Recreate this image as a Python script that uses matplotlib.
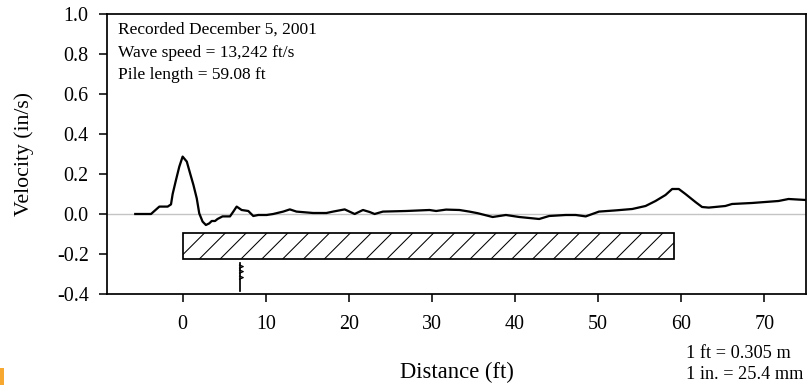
import matplotlib
matplotlib.use("Agg")
import matplotlib.pyplot as plt
from matplotlib.patches import Rectangle

# velocity trace read along the pile (ft, in/s)
distance = [-5.7, -3.8, -3.4, -2.8, -1.8, -1.4, -1.2, -0.8, -0.4, 0.0, 0.5,
            0.9, 1.3, 1.7, 2.0, 2.4, 2.8, 3.2, 3.5, 3.9, 4.2, 4.8, 5.7, 6.1,
            6.5, 7.1, 7.9, 8.5, 9.1, 10.1, 10.9, 12.1, 12.9, 13.7, 15.7,
            17.3, 18.1, 19.5, 20.7, 21.7, 22.5, 23.1, 24.1, 26.9, 29.7, 30.5,
            31.7, 33.3, 34.5, 35.5, 37.3, 38.9, 40.5, 42.9, 44.1, 46.1, 47.3,
            48.5, 50.1, 52.1, 54.1, 55.7, 56.9, 58.1, 58.9, 59.7, 60.5, 61.7,
            62.5, 63.3, 65.3, 66.1, 68.5, 70.1, 71.7, 72.9, 75.0]
velocity = [0.0, 0.0, 0.015, 0.037, 0.037, 0.048, 0.10, 0.17, 0.237, 0.287,
            0.262, 0.203, 0.145, 0.078, 0.003, -0.038, -0.055, -0.047,
            -0.035, -0.035, -0.025, -0.012, -0.012, 0.012, 0.037, 0.02,
            0.015, -0.01, -0.005, -0.005, 0.0, 0.012, 0.023, 0.012, 0.005,
            0.005, 0.012, 0.023, 0.0, 0.02, 0.01, 0.0, 0.012, 0.015, 0.02,
            0.015, 0.022, 0.02, 0.012, 0.004, -0.015, -0.005, -0.015, -0.025,
            -0.01, -0.005, -0.005, -0.012, 0.012, 0.018, 0.025, 0.04, 0.065,
            0.095, 0.125, 0.125, 0.10, 0.06, 0.035, 0.032, 0.04, 0.05, 0.055,
            0.06, 0.065, 0.075, 0.07]

pile_length = 59.08
pile_top, pile_bottom = -0.093, -0.227
gauge_x = 6.85
gauge_y = (-0.243, -0.383)

x_ticks = [0, 10, 20, 30, 40, 50, 60, 70]
y_ticks = [-0.4, -0.2, 0.0, 0.2, 0.4, 0.6, 0.8, 1.0]

notes = ["Recorded December 5, 2001",
         "Wave speed = 13,242 ft/s",
         "Pile length = 59.08 ft"]
units = ["1 ft = 0.305 m", "1 in. = 25.4 mm"]

plt.rcParams["font.family"] = ["Liberation Serif", "DejaVu Serif"]
plt.rcParams["hatch.linewidth"] = 0.6

fig = plt.figure(figsize=(6.48, 3.08), dpi=125)
ax = fig.add_axes([0.1321, 0.2364, 0.8629, 0.7272])

ax.axhline(0, color="#c4c4c4", linewidth=0.8, zorder=1)
ax.plot(distance, velocity, color="black", linewidth=1.3, zorder=3)

# the pile itself, drawn below the trace
ax.add_patch(Rectangle((0, pile_bottom), pile_length, pile_top - pile_bottom,
                       facecolor="white", edgecolor="black", linewidth=1.0,
                       hatch="//", zorder=2))

# gauge location
ax.plot([gauge_x, gauge_x], gauge_y, color="black", linewidth=1.0)
for gy in (-0.263, -0.288, -0.318):
    ax.plot([gauge_x, gauge_x + 0.45, gauge_x], [gy + 0.008, gy, gy - 0.008],
            color="black", linewidth=0.7)

for i, line in enumerate(notes):
    ax.text(0.016, 0.943 - i * 0.081, line, transform=ax.transAxes,
            fontsize=10, va="center", ha="left")

ax.set_xlim(-9.1, 75)
ax.set_ylim(-0.4, 1.0)
ax.set_xticks(x_ticks)
ax.set_yticks(y_ticks)
ax.set_yticklabels([f"{v:.1f}" for v in y_ticks])
ax.tick_params(axis="both", direction="out", length=4.5, width=0.9,
               labelsize=11.5, pad=6)
ax.tick_params(axis="x", pad=7.5)
for s in ax.spines.values():
    s.set_linewidth(1.0)

ax.set_xlabel("Distance (ft)", fontsize=13, labelpad=16)
ax.set_ylabel("Velocity (in/s)", fontsize=12.5, labelpad=13)

fig.text(0.847, 0.081, units[0], fontsize=10.5, va="center", ha="left")
fig.text(0.847, 0.027, units[1], fontsize=10.5, va="center", ha="left")

# orange edge mark at the lower left
fig.patches.append(Rectangle((0, 0), 0.005, 0.044, transform=fig.transFigure,
                             facecolor="#f7a831", edgecolor="none", figure=fig))

fig.savefig("out.png", dpi=125)
